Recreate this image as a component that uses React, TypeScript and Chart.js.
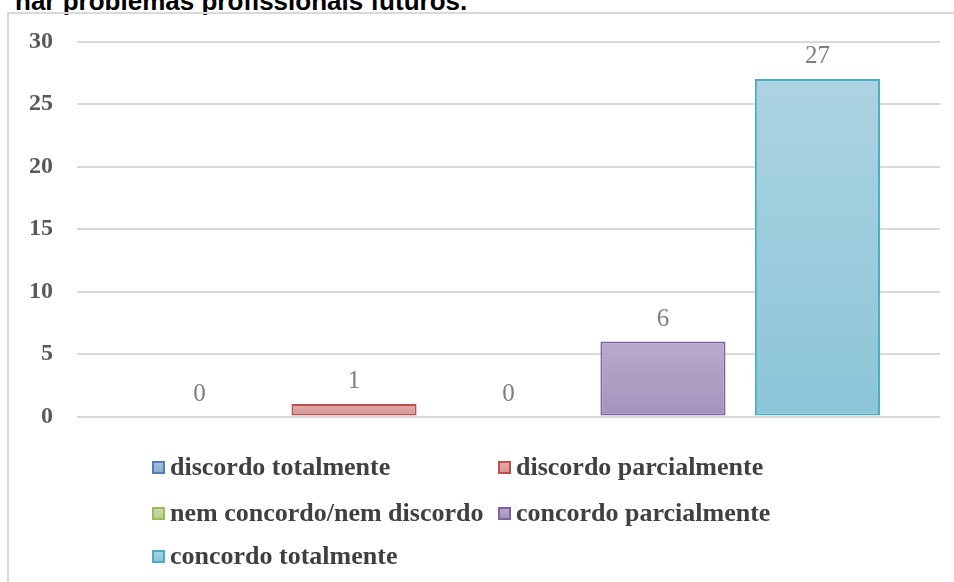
import React, { useEffect, useRef } from "react";
import { Chart, registerables } from "chart.js";

Chart.register(...registerables);

const titleText = "nar problemas profissionais futuros.";
const categories = ["discordo totalmente", "discordo parcialmente", "nem concordo/nem discordo", "concordo parcialmente", "concordo totalmente"];
const values = [0, 1, 0, 6, 27];
const xLabels = [""];
const yMin = 0;
const yMax = 30;
const yStep = 5;

const borderColors = ["#4F81BD", "#C0504D", "#9BBB59", "#8064A2", "#4BACC6"];
const fillTop = ["#A9BFDD", "#E1ABAA", "#CADDA6", "#B9AACB", "#ACD3E1"];
const fillBottom = ["#8FAAD3", "#D79594", "#B8CF8A", "#A493BC", "#8BC5D8"];

const legendPos = [
  { col: 0, row: 0 },
  { col: 1, row: 0 },
  { col: 0, row: 1 },
  { col: 1, row: 1 },
  { col: 0, row: 2 },
];
const colX = [152, 498];
const rowBaseline = [475, 521, 564];

const valueLabelPlugin = {
  id: "valueLabels",
  afterDatasetsDraw(chart: any) {
    const ctx = chart.ctx;
    ctx.save();
    ctx.font = '25px "Liberation Serif", serif';
    ctx.fillStyle = "#7F7F7F";
    ctx.textAlign = "center";
    ctx.textBaseline = "alphabetic";
    chart.data.datasets.forEach((ds: any, i: number) => {
      const meta = chart.getDatasetMeta(i);
      const el = meta.data[0];
      if (!el) return;
      ctx.fillText(String(ds.data[0]), el.x, el.y - 16);
    });
    ctx.restore();
  },
};

export default function App() {
  const ref = useRef<HTMLCanvasElement>(null);
  useEffect(() => {
    if (!ref.current) return;
    const chart = new Chart(ref.current, {
      type: "bar",
      data: {
        labels: xLabels,
        datasets: categories.map((c, i) => ({
          label: c,
          data: [values[i]],
          borderColor: borderColors[i],
          borderWidth: 2,
          borderSkipped: false,
          backgroundColor: (ctx: any) => {
            const ch = ctx.chart;
            const area = ch.chartArea;
            if (!area || !ch.scales || !ch.scales.y) return fillTop[i];
            const ys = ch.scales.y;
            const top = ys.getPixelForValue(values[i]);
            const bottom = ys.getPixelForValue(0);
            if (bottom - top < 1) return fillTop[i];
            const g = ch.ctx.createLinearGradient(0, top, 0, bottom);
            g.addColorStop(0, fillTop[i]);
            g.addColorStop(1, fillBottom[i]);
            return g;
          },
          categoryPercentage: 0.895,
          barPercentage: 0.81,
        })),
      },
      options: {
        responsive: false,
        animation: false,
        devicePixelRatio: 1,
        layout: { padding: { left: 0, right: 14, top: 41.5, bottom: 165.5 } },
        plugins: {
          legend: { display: false },
          tooltip: { enabled: false },
          title: { display: false },
        },
        scales: {
          x: {
            display: false,
            grid: { display: false },
          },
          y: {
            min: yMin,
            max: yMax,
            ticks: {
              stepSize: yStep,
              padding: 24,
              color: "#595959",
              font: { family: '"Liberation Serif", serif', size: 24, weight: "bold" },
            },
            grid: { color: "#D9D9D9", lineWidth: 2, drawTicks: false },
            border: { display: false },
            afterFit: (scale: any) => {
              scale.width = 77;
            },
          },
        },
      },
      plugins: [valueLabelPlugin],
    });
    return () => chart.destroy();
  }, []);

  return (
    <div style={{ position: "absolute", left: 0, top: 0, width: 954, height: 582, overflow: "hidden", background: "#ffffff" }}>
      <div
        style={{
          position: "absolute",
          left: 15,
          top: -12,
          font: 'bold 26px "Liberation Sans", Arial, sans-serif',
          lineHeight: "26px",
          color: "#000000",
          whiteSpace: "nowrap",
        }}
      >
        {titleText}
      </div>
      <div
        style={{
          position: "absolute",
          left: 7,
          top: 12,
          width: 980,
          height: 600,
          borderLeft: "2px solid #D9D9D9",
          borderTop: "2px solid #D9D9D9",
        }}
      />
      <canvas ref={ref} width={954} height={582} style={{ position: "absolute", left: 0, top: 0, width: 954, height: 582 }} />
      {categories.map((c, i) => {
        const p = legendPos[i];
        const x = colX[p.col];
        const base = rowBaseline[p.row];
        return (
          <React.Fragment key={c}>
            <div
              style={{
                position: "absolute",
                left: x,
                top: base - 14,
                width: 9,
                height: 9,
                border: `2px solid ${borderColors[i]}`,
                background: `linear-gradient(${fillTop[i]}, ${fillBottom[i]})`,
              }}
            />
            <div
              style={{
                position: "absolute",
                left: x + 18,
                top: base - 21,
                font: 'bold 26px "Liberation Serif", serif',
                lineHeight: "25px",
                color: "#404040",
                whiteSpace: "nowrap",
              }}
            >
              {c}
            </div>
          </React.Fragment>
        );
      })}
    </div>
  );
}
